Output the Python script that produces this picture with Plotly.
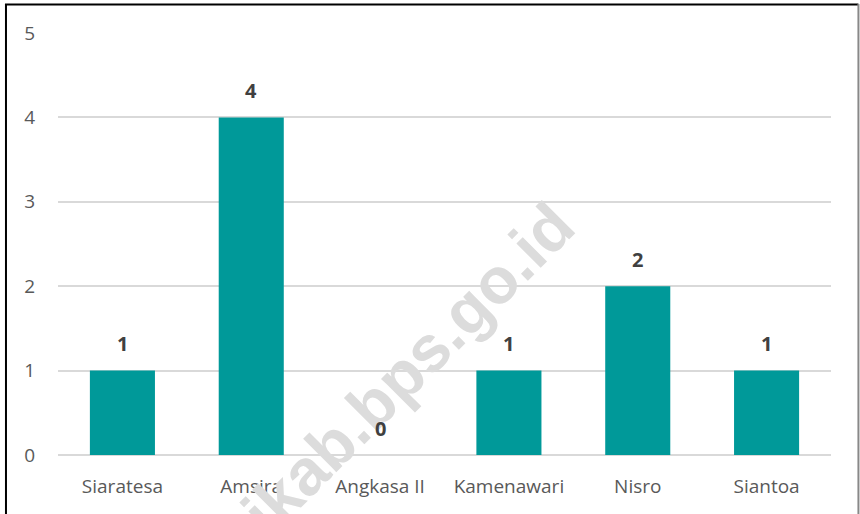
import plotly.graph_objects as go

categories = ["Siaratesa", "Amsira", "Angkasa II", "Kamenawari", "Nisro", "Siantoa"]
values = [1, 4, 0, 1, 2, 1]
y_ticks = [0, 1, 2, 3, 4, 5]
watermark = "sarmikab.bps.go.id"

BAR = "#009999"
GRID = "#d9d9d9"

fig = go.Figure()
fig.add_trace(go.Bar(x=categories, y=values, marker=dict(color=BAR, line=dict(width=0)),
                     hoverinfo="skip"))

# watermark
fig.add_annotation(text=watermark, xref="paper", yref="paper", x=0.382, y=0.074,
                   showarrow=False, textangle=-45,
                   font=dict(family="Liberation Sans", size=65, color="#dcdcdc", weight="bold"),
                   xanchor="center", yanchor="middle")

for c, v in zip(categories, values):
    fig.add_annotation(x=c, y=v, text=f"<b>{v}</b>", showarrow=False, yshift=27,
                       yanchor="middle",
                       font=dict(family="Open Sans", size=20, color="#404040"))

# frame lines
fig.add_shape(type="line", xref="paper", yref="paper", x0=-0.0673, x1=-0.0673, y0=-0.2, y1=1.069,
              line=dict(color="black", width=2))
fig.add_shape(type="line", xref="paper", yref="paper", x0=-0.0686, x1=1.0355, y0=1.0675, y1=1.0675,
              line=dict(color="black", width=2))
fig.add_shape(type="line", xref="paper", yref="paper", x0=1.0355, x1=1.0355, y0=-0.2, y1=1.069,
              line=dict(color="#888888", width=2))

fig.update_layout(
    width=860, height=514,
    margin=dict(l=58, r=29, t=33, b=59),
    paper_bgcolor="white", plot_bgcolor="white",
    bargap=0.495,
    showlegend=False,
    font=dict(family="Open Sans", size=20, color="#595959"),
)
fig.update_xaxes(showgrid=False, showline=False, zeroline=False, ticks="",
                 tickfont=dict(family="Open Sans", size=19, color="#595959"),
                 ticklabelstandoff=18, fixedrange=True)
fig.update_yaxes(range=[0, 5], tickvals=y_ticks, showgrid=True, gridcolor=GRID, gridwidth=2,
                 zeroline=True, zerolinecolor=GRID, zerolinewidth=2, showline=False, ticks="",
                 tickfont=dict(family="Open Sans", size=19, color="#595959"),
                 ticklabelstandoff=22, fixedrange=True)

fig.write_html("out.html", config={"displayModeBar": False},
               post_script="document.body.style.margin='0';document.body.style.overflow='hidden';")
